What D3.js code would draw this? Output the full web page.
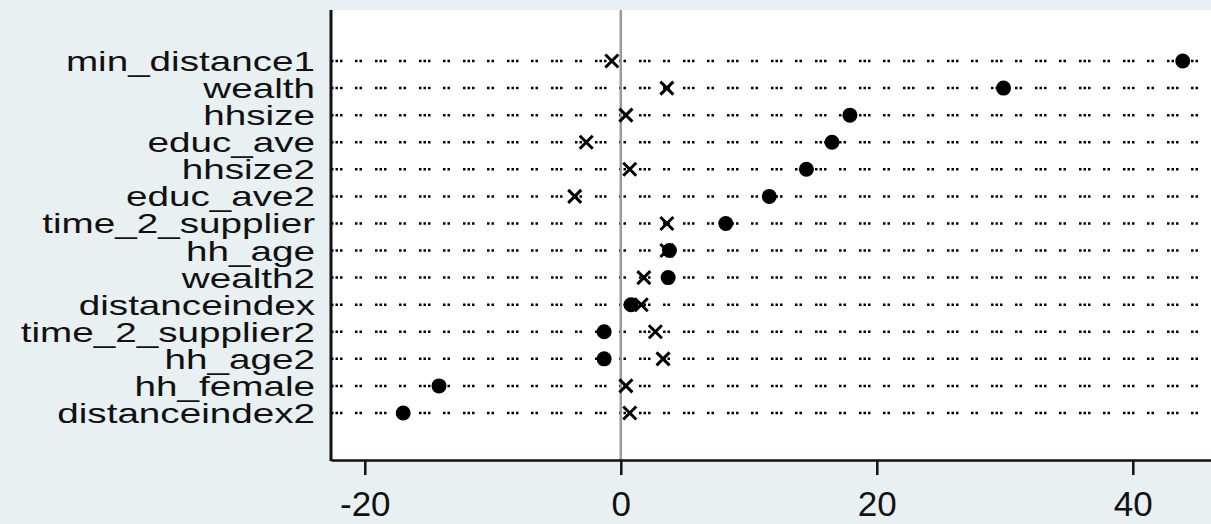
<!DOCTYPE html>
<html>
<head>
<meta charset="utf-8">
<script src="https://cdn.jsdelivr.net/npm/d3@7"></script>
<style>
  body { margin: 0; background: #e8f0f2; }
  svg { display: block; }
  text { font-family: "Liberation Sans", Arial, sans-serif; fill: #111; }
</style>
</head>
<body>
<svg id="chart" width="1211" height="524"></svg>
<script>
// variables, top to bottom
const variables = [
  "min_distance1", "wealth", "hhsize", "educ_ave", "hhsize2", "educ_ave2",
  "time_2_supplier", "hh_age", "wealth2", "distanceindex", "time_2_supplier2",
  "hh_age2", "hh_female", "distanceindex2"
];
// standardized bias, unmatched sample (filled circles)
const unmatched = [43.9, 29.9, 17.9, 16.5, 14.5, 11.6, 8.2, 3.8, 3.7, 0.8, -1.3, -1.3, -14.2, -17.0];
// standardized bias, matched sample (crosses)
const matched = [-0.7, 3.6, 0.4, -2.7, 0.7, -3.6, 3.6, 3.6, 1.8, 1.6, 2.7, 3.3, 0.4, 0.7];
const xTicks = [-20, 0, 20, 40];

const svg = d3.select("#chart");
const width = 1211;
const plot = { left: 331, top: 10, bottom: 460, right: 1216 };

// Scales
const x = d3.scaleLinear()
  .domain([-22.64, 46.5])
  .range([plot.left, plot.right]);

const y = d3.scalePoint()
  .domain(variables)
  .range([61, 413]);

// plot region
svg.append("rect")
  .attr("x", plot.left)
  .attr("y", plot.top)
  .attr("width", width - plot.left)
  .attr("height", plot.bottom - plot.top)
  .attr("fill", "#fff");

// dotted guide lines
svg.append("g")
  .selectAll("line")
  .data(variables)
  .join("line")
  .attr("x1", plot.left)
  .attr("x2", width)
  .attr("y1", d => y(d))
  .attr("y2", d => y(d))
  .attr("stroke", "#000")
  .attr("stroke-width", 2.5)
  .attr("stroke-dasharray", "2.5,2,2.5,2,2.5,12.5,2.5,2,2.5,13");

// zero line
svg.append("line")
  .attr("x1", x(0)).attr("x2", x(0))
  .attr("y1", plot.top).attr("y2", plot.bottom)
  .attr("stroke", "#9a9a9a")
  .attr("stroke-width", 2.5);

// unmatched markers
svg.append("g")
  .selectAll("circle")
  .data(variables)
  .join("circle")
  .attr("cx", (d, i) => x(unmatched[i]))
  .attr("cy", d => y(d))
  .attr("r", 7.5)
  .attr("fill", "#000");

// matched markers
const s = 6.5;
svg.append("g")
  .selectAll("path")
  .data(variables)
  .join("path")
  .attr("transform", (d, i) => `translate(${x(matched[i])},${y(d)})`)
  .attr("d", `M${-s},${-s}L${s},${s}M${-s},${s}L${s},${-s}`)
  .attr("stroke", "#000")
  .attr("stroke-width", 3)
  .attr("fill", "none");

// y labels (Stata draws them wide and crowded)
svg.append("g")
  .selectAll("text")
  .data(variables)
  .join("text")
  .attr("transform", d => `translate(315,${y(d) + 10}) scale(1.38,1)`)
  .attr("text-anchor", "end")
  .attr("font-size", 28)
  .text(d => d);

// x axis
const xAxis = svg.append("g")
  .attr("transform", `translate(0,${plot.bottom})`)
  .call(d3.axisBottom(x).tickValues(xTicks).tickSize(15).tickSizeOuter(0)
    .tickFormat(d => String(d)));
xAxis.select(".domain").attr("stroke", "#111").attr("stroke-width", 2.5);
xAxis.selectAll(".tick line").attr("stroke", "#111").attr("stroke-width", 2.5);
xAxis.selectAll(".tick text")
  .attr("y", 56)
  .attr("dy", 0)
  .attr("font-size", 35)
  .attr("font-family", "Liberation Sans, Arial, sans-serif")
  .attr("fill", "#111");

// left axis line
svg.append("line")
  .attr("x1", plot.left).attr("x2", plot.left)
  .attr("y1", plot.top).attr("y2", plot.bottom + 1)
  .attr("stroke", "#111")
  .attr("stroke-width", 3);
</script>
</body>
</html>
